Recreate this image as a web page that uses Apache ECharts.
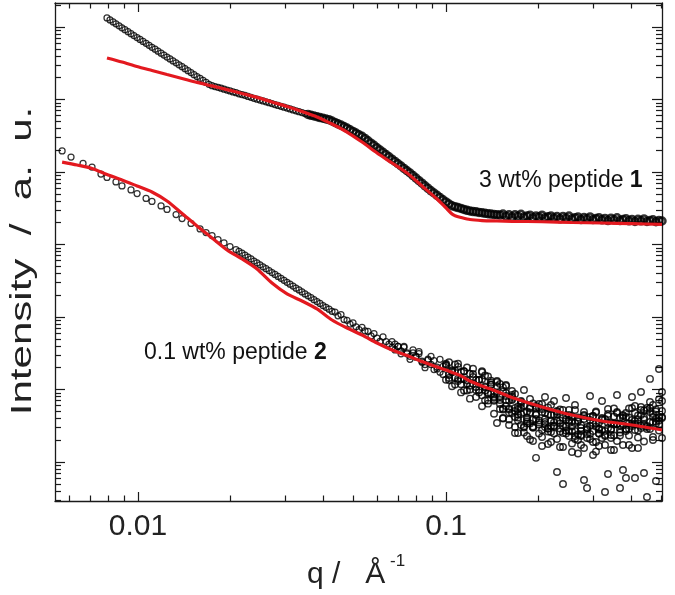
<!DOCTYPE html>
<html>
<head>
<meta charset="utf-8">
<script src="https://cdn.jsdelivr.net/npm/echarts@6/dist/echarts.min.js"></script>
<style>
html, body { margin: 0; padding: 0; background: #ffffff; }
#chart { width: 675px; height: 595px; }
</style>
</head>
<body>
<div id="chart"></div>
<script>
// ---------------- data (q in 1/Å, intensity in arbitrary units) ----------------
const qGrid = [
  0.00567, 0.00579, 0.00593, 0.00606, 0.00620, 0.00634, 0.00648, 0.00663, 0.00678, 0.00693,
  0.00709, 0.00725, 0.00742, 0.00758, 0.00776, 0.00793, 0.00811, 0.00830, 0.00848, 0.00868,
  0.00887, 0.00907, 0.00928, 0.00949, 0.00970, 0.00993, 0.01015, 0.01038, 0.01062, 0.01086,
  0.01110, 0.01136, 0.01161, 0.01188, 0.01214, 0.01242, 0.01270, 0.01299, 0.01329, 0.01359,
  0.01390, 0.01421, 0.01453, 0.01486, 0.01520, 0.01554, 0.01590, 0.01626, 0.01663, 0.01700,
  0.01739, 0.01778, 0.01819, 0.01860, 0.01902, 0.01945, 0.01989, 0.02034, 0.02080, 0.02127,
  0.02176, 0.02225, 0.02276, 0.02327, 0.02380, 0.02434, 0.02489, 0.02546, 0.02604, 0.02663,
  0.02723, 0.02785, 0.02848, 0.02913, 0.02979, 0.03047, 0.03115, 0.03186, 0.03258, 0.03332,
  0.03408, 0.03485, 0.03564, 0.03645, 0.03727, 0.03812, 0.03898, 0.03986, 0.04077, 0.04170,
  0.04264, 0.04361, 0.04460, 0.04561, 0.04665, 0.04771, 0.04879, 0.04990, 0.05103, 0.05218,
  0.05337, 0.05458, 0.05582, 0.05708, 0.05837, 0.05970, 0.06105, 0.06244, 0.06386, 0.06530,
  0.06679, 0.06830, 0.06985, 0.07144, 0.07305, 0.07471, 0.07640, 0.07814, 0.07991, 0.08171,
  0.08358, 0.08547, 0.08741, 0.08939, 0.09141, 0.09350, 0.09561, 0.09779, 0.1000, 0.1023,
  0.1046, 0.1070, 0.1094, 0.1119, 0.1144, 0.1170, 0.1196, 0.1224, 0.1252, 0.1280,
  0.1309, 0.1339, 0.1369, 0.1400, 0.1432, 0.1464, 0.1497, 0.1531, 0.1566, 0.1602,
  0.1638, 0.1675, 0.1713, 0.1752, 0.1791, 0.1832, 0.1874, 0.1916, 0.1960, 0.2004,
  0.2050, 0.2096, 0.2144, 0.2192, 0.2242, 0.2293, 0.2345, 0.2398, 0.2453, 0.2508,
  0.2565, 0.2623, 0.2683, 0.2744, 0.2806, 0.2870, 0.2935, 0.3001, 0.3069, 0.3139,
  0.3210, 0.3283, 0.3357, 0.3433, 0.3511, 0.3591, 0.3672, 0.3755, 0.3840, 0.3928,
  0.4017, 0.4108, 0.4201, 0.4296, 0.4394, 0.4493, 0.4595, 0.4699, 0.4806, 0.4915,
  0.5027
];

// 3 wt% peptide 1, measured (aligned with qGrid)
const pep1Data = [
  null, null, null, null, null, null, null, null, null, null,
  null, null, null, null, null, 1.331e6, 1.251e6, 1.176e6, 1.105e6, 1.039e6,
  9.76e5, 9.18e5, 8.63e5, 8.10e5, 7.62e5, 7.16e5, 6.73e5, 6.33e5, 5.95e5, 5.59e5,
  5.25e5, 4.94e5, 4.64e5, 4.36e5, 4.10e5, 3.85e5, 3.62e5, 3.40e5, 3.20e5, 3.01e5,
  2.83e5, 2.66e5, 2.50e5, 2.35e5, 2.20e5, 2.07e5, 1.95e5, 1.83e5, 1.72e5, 1.62e5,
  1.55e5, 1.51e5, 1.47e5, 1.43e5, 1.39e5, 1.35e5, 1.31e5, 1.27e5, 1.24e5, 1.20e5,
  1.17e5, 1.14e5, 1.10e5, 1.07e5, 1.04e5, 1.01e5, 9.84e4, 9.56e4, 9.30e4, 9.04e4,
  8.78e4, 8.53e4, 8.29e4, 8.06e4, 7.83e4, 7.61e4, 7.40e4, 7.19e4, 6.99e4, 6.79e4,
  6.60e4, 6.41e4, 6.23e4, 6.06e4, 5.92e4, 5.78e4, 5.64e4, 5.51e4, 5.38e4, 5.26e4,
  5.05e4, 4.83e4, 4.62e4, 4.44e4, 4.24e4, 4.03e4, 3.82e4, 3.63e4, 3.44e4, 3.26e4,
  3.10e4, 2.90e4, 2.69e4, 2.50e4, 2.33e4, 2.16e4, 2.01e4, 1.87e4, 1.74e4, 1.62e4,
  1.50e4, 1.40e4, 1.30e4, 1.21e4, 1.12e4, 1.04e4, 9.69e3, 8.92e3, 8.24e3, 7.59e3,
  7.01e3, 6.45e3, 5.96e3, 5.50e3, 5.13e3, 4.77e3, 4.45e3, 4.14e3, 3.86e3, 3.62e3,
  3.42e3, 3.32e3, 3.23e3, 3.14e3, 3.05e3, 2.96e3, 2.90e3, 2.85e3, 2.82e3, 2.77e3,
  2.74e3, 2.69e3, 2.66e3, 2.63e3, 2.60e3, 2.58e3, 2.55e3, 2.63e3, 2.46e3, 2.57e3,
  2.39e3, 2.58e3, 2.46e3, 2.61e3, 2.40e3, 2.47e3, 2.54e3, 2.34e3, 2.48e3, 2.39e3,
  2.54e3, 2.34e3, 2.41e3, 2.48e3, 2.32e3, 2.43e3, 2.26e3, 2.44e3, 2.32e3, 2.47e3,
  2.27e3, 2.34e3, 2.40e3, 2.21e3, 2.35e3, 2.26e3, 2.40e3, 2.21e3, 2.28e3, 2.34e3,
  2.19e3, 2.29e3, 2.14e3, 2.31e3, 2.19e3, 2.33e3, 2.14e3, 2.21e3, 2.27e3, 2.12e3,
  2.22e3, 2.08e3, 2.23e3, 2.12e3, 2.25e3, 2.08e3, 2.14e3, 2.19e3, 2.06e3, 2.15e3,
  2.11e3
];

// 0.1 wt% peptide 2, measured (aligned with qGrid)
const pep2Data = [
  1.95e4, null, null, 1.61e4, null, null, null, 1.31e4, null, null,
  1.17e4, null, null, 9.38e3, null, 8.40e3, null, null, 7.28e3, null,
  6.41e3, null, null, 5.65e3, null, 5.05e3, null, null, 4.31e3, null,
  3.92e3, null, null, 3.40e3, null, 3.04e3, null, null, 2.59e3, null,
  2.28e3, null, null, 1.95e3, null, null, 1.64e3, null, 1.46e3, null,
  1.33e3, null, 1.17e3, null, 1.05e3, null, 938, null, 853, 806,
  759, 712, 670, 631, 592, 557, 525, 493, 464, 437,
  410, 386, 363, 341, 321, 301, 283, 267, 250, 236,
  222, 208, 196, 185, 173, 163, 154, 144, 136, 128,
  120, 117, 104, 108, 92.3, 90.1, 79.9, 82.9, 73.2, 67.0,
  71.9, 64.1, 63.1, 54.7, 59.2, 51.3, 46.0, 53.0, 45.9, 42.4,
  38.0, 42.4, 39.2, 34.1, 38.1, 32.0, 28.7, 32.1, 28.8, 31.2,
  24.6, 22.1, 26.3, 22.2, 25.0, 19.2, 17.3, 20.8, 22.0, 15.8,
  17.3, 18.2, 13.1, 17.4, 13.8, 12.1, 16.5, 12.0, 13.5, 9.81,
  13.8, 11.0, 9.06, 11.6, 7.93, 11.2, 7.88, 9.39, 5.92, 7.05,
  7.88, 5.56, 4.52, 5.56, 4.82, 3.62, 5.47, 3.86, 4.59, 3.50,
  5.38, 3.92, 4.52, 3.14, 3.50, 4.59, 3.74, 3.14, 3.86, 4.45,
  3.09, 2.68, 3.74, 3.24, 3.92, 2.76, 3.14, 4.31, 3.09, 3.50,
  2.76, 3.92, 2.94, 3.45, 4.24, 3.34, 2.80, 4.05, 4.74, 3.40,
  3.80, 4.74, 3.40, 4.45, 3.86, 5.56, 3.56, 4.59, 5.30, 4.11,
  5.05
];

// further peptide 2 readings in the noisy part, aligned with qGrid from the given index
const SCATTER_B_START = 110;
const pep2ScatterB = [
  45.9, 35.1, 39.2, 31.1, 39.4, 31.1, 26.1, 35.3, 27.9, 33.2,
  23.8, 20.0, 25.5, 28.6, 18.8, 20.4, 26.1, 16.1, 21.2, 13.5,
  17.8, 22.1, 14.0, 11.8, 17.8, 13.3, 10.0, 16.4, 10.8, 13.5,
  8.30, 15.6, 8.79, 12.4, 6.98, 8.95, 11.9, 5.47, 8.14, 5.30,
  9.54, 5.05, 3.74, 6.31, 3.09, 4.97, 3.40, 6.41, 3.92, 5.65,
  2.76, 4.74, 2.90, 6.11, 3.19, 3.68, 5.30, 2.51, 4.38, 2.68,
  3.62, 5.21, 2.40, 2.94, 4.31, 2.14, 3.80, 2.68, 4.97, 2.47,
  3.80, 2.28, 4.59, 2.85, 5.47, 3.34, 2.55, 4.45, 2.85, 5.47,
  3.34, 2.76, 4.38, 5.74, 3.29, 2.85, 5.56, 4.18, 3.40, 7.29,
  4.05
];
const SCATTER_C_START = 128;
const pep2ScatterC = [
  13.6, 23.8, 11.1, 14.6, 22.6, 9.12, 17.8, 9.70, 7.48, 19.3,
  9.84, 13.5, 5.86, 7.08, 15.1, 8.76, 4.62, 3.45, 6.31, 4.05,
  11.2, 3.24, 8.40, 3.04, 2.51, 6.72, 9.84, 2.28, 7.40, 1.95,
  1.14, 6.31, 2.21, 7.88, 1.77, 2.59, 6.94, 0.728, 1.61, 0.497,
  7.64, 2.28, 1.37, 6.11, 2.01, 1.72, 0.565, 0.438, 8.14, 1.25,
  1.89, 1.66, 6.94, 0.386, 0.683, 2.14, 1.46, 8.40, 0.438, 0.776,
  0.602, 1.72, 7.88, 0.602, 1.56, 9.24, 0.705, 0.329, 14.0, 2.01,
  0.547, 19.2, 9.24
];
const SCATTER_D_START = 128;
const pep2ScatterD = [
  22.7, 14.4, 18.4, 11.7, 20.5, 13.9, 9.70, 20.1, 11.3, 14.9,
  7.88, 9.12, 17.8, 10.7, 6.38, 13.2, 7.21, 13.1, 7.17, 10.7,
  7.17, 4.82, 7.17, 8.67, 4.11, 4.59, 6.01, 3.40, 4.82, 2.99,
  5.92, 3.74, 4.89, 3.04, 5.65, 3.68, 3.09, 4.89, 2.63, 4.05,
  3.09, 5.21, 2.63, 3.45, 4.11, 2.28, 4.45, 3.04, 2.43, 3.45,
  4.82, 2.80, 3.92, 2.68, 4.31, 2.36, 3.40, 4.89, 3.19, 4.31,
  2.68, 4.11, 3.14, 5.92, 3.86, 3.14, 5.13, 3.04, 4.89, 6.11,
  3.98, 3.74, 6.94
];
const SCATTER_E_START = 146;
const pep2ScatterE = [
  5.38, 3.98, 8.95, 3.86, 4.74, 2.51, 5.83, 3.24, 2.55, 3.86,
  2.04, 3.09, 5.56, 2.47, 1.66, 3.56, 2.63, 1.89, 4.52, 2.08,
  2.90, 1.61, 2.47, 3.80, 1.80, 2.08, 1.31, 2.68, 1.56, 2.43,
  4.18, 1.89, 1.39, 2.90, 2.14, 1.72, 3.45, 1.46, 2.32, 1.95,
  4.11, 1.72, 2.85, 2.32, 1.56, 3.68, 2.18, 2.94, 1.92, 5.21,
  2.85, 2.21, 3.62, 2.72, 2.14
];
const SCATTER_F_START = 140;
const pep2ScatterF = [
  17.3, 9.70, 7.03, 11.6, 7.69, 12.7, 8.14, 5.30, 11.5, 5.47,
  7.40, 4.18, 5.30, 6.94, 2.99, 4.11, 5.65, 2.99, 4.45, 3.29,
  6.31, 3.34, 2.90, 4.45, 2.47, 5.05, 3.40, 5.21, 2.72, 3.45,
  4.24, 2.28, 3.62, 2.36, 4.89, 2.85, 2.08, 4.31, 3.40, 2.47,
  4.05, 2.36, 5.38, 2.76, 3.29, 4.74, 2.32, 3.24, 4.18, 2.90,
  5.56, 3.34, 2.72, 5.21, 4.11, 3.14, 6.72, 3.56, 4.97, 3.29,
  4.18
];

// model fits
const qFit = [
  0.00567, 0.00634, 0.00709, 0.00793, 0.00887, 0.00993, 0.01110, 0.01242, 0.01390, 0.01554,
  0.01739, 0.01945, 0.02176, 0.02434, 0.02723, 0.03047, 0.03408, 0.03812, 0.04264, 0.04771,
  0.05337, 0.05970, 0.06679, 0.07471, 0.08358, 0.09350, 0.1000, 0.1046, 0.1070, 0.1119,
  0.1196, 0.1309, 0.1464, 0.1638, 0.2050, 0.2565, 0.3210, 0.4017, 0.5027
];
const pep1Fit = [
  null, null, null, 3.74e5, 3.29e5, 2.85e5, 2.51e5, 2.21e5, 1.95e5, 1.72e5,
  1.54e5, 1.37e5, 1.21e5, 1.07e5, 9.24e4, 8.01e4, 6.83e4, 5.74e4, 4.59e4, 3.56e4,
  2.59e4, 1.83e4, 1.33e4, 9.69e3, 6.41e3, 4.24e3, 3.19e3, 2.63e3, 2.49e3, 2.36e3,
  2.21e3, 2.14e3, 2.11e3, 2.09e3, 2.06e3, 2.01e3, 1.98e3, 1.94e3, 1.89e3
];
const pep2Fit = [
  1.37e4, 1.25e4, 1.12e4, 9.24e3, 7.76e3, 6.41e3, 5.30e3, 3.98e3, 2.68e3, 1.80e3,
  1.23e3, 840, 631, 459, 294, 208, 166, 129, 90.9, 70.5,
  56.5, 43.8, 35.1, 29.4, 24.3, 20.4, 18.6, 17.2, 16.6, 15.4,
  13.1, 11.2, 9.38, 7.76, 5.74, 4.45, 3.68, 3.24, 2.76
];

// axes
const xMajorTicks = [0.01, 0.1];
const xMinorTicks = [0.006, 0.007, 0.008, 0.009, 0.02, 0.03, 0.04, 0.05, 0.06, 0.07, 0.08, 0.09, 0.2, 0.3, 0.4, 0.5];
const yMajorTicks = [1, 10, 100, 1000, 10000, 100000, 1000000];
const yMinorTicks = [
  0.3, 0.4, 0.5, 0.6, 0.7, 0.8, 0.9,
  2, 3, 4, 5, 6, 7, 8, 9,
  20, 30, 40, 50, 60, 70, 80, 90,
  200, 300, 400, 500, 600, 700, 800, 900,
  2000, 3000, 4000, 5000, 6000, 7000, 8000, 9000,
  20000, 30000, 40000, 50000, 60000, 70000, 80000, 90000,
  200000, 300000, 400000, 500000, 600000, 700000, 800000, 900000,
  2000000
];
const labels = {
  yTitle: 'Intensity  /  a.  u.',
  xTitle: 'q /   Å',
  xTitleSup: '-1',
  pep1: '3 wt% peptide {b|1}',
  pep2: '0.1 wt% peptide {b|2}'
};

// ---------------- chart ----------------
const FONT = '"Liberation Sans", Arial, Helvetica, sans-serif';
const INK = '#1a1a1a';
const RED = '#e3191f';
const X_MIN = 0.005376, X_MAX = 0.5027;
const Y_MIN = 0.2897, Y_MAX = 2.143e6;
const DENSE_FROM_Q = 0.035;   // peptide 1 points merge into a solid band from here on
const NOISY_FROM_Q = 0.1;     // peptide 2 points form a dense cloud from here on

function pairs(qs, vals, start) {
  const out = [];
  vals.forEach(function (v, i) { if (v != null) out.push([qs[start + i], v]); });
  return out;
}

function axisDef(kind, position, ticks, len, withLine, withLabels) {
  const isX = kind === 'x';
  return {
    type: 'log', logBase: 10, position: position,
    min: isX ? X_MIN : Y_MIN, max: isX ? X_MAX : Y_MAX,
    axisLine: { show: withLine, onZero: false, lineStyle: { color: INK, width: 1.3 } },
    axisTick: { show: true, inside: true, length: len, customValues: ticks,
      lineStyle: { color: INK, width: 1.2 } },
    axisLabel: withLabels ? {
      show: true, customValues: ticks, margin: 11, fontSize: 30, fontFamily: FONT, color: '#222',
      formatter: function (v) { return String(v); }
    } : { show: false },
    splitLine: { show: false },
    minorTick: { show: false },
    minorSplitLine: { show: false }
  };
}

const circleStyle = { color: 'rgba(0,0,0,0)', borderColor: '#000', borderWidth: 1.25 };

const pep1Points = pairs(qGrid, pep1Data, 0).map(function (p) {
  return p[0] >= DENSE_FROM_Q
    ? { value: p, symbolSize: 7, itemStyle: { borderWidth: 2.5 } }
    : { value: p };
});
const pep2Points = pairs(qGrid, pep2Data, 0)
  .concat(pairs(qGrid, pep2ScatterB, SCATTER_B_START))
  .concat(pairs(qGrid, pep2ScatterC, SCATTER_C_START))
  .concat(pairs(qGrid, pep2ScatterD, SCATTER_D_START))
  .concat(pairs(qGrid, pep2ScatterE, SCATTER_E_START))
  .concat(pairs(qGrid, pep2ScatterF, SCATTER_F_START))
  .map(function (p) {
    return p[0] >= NOISY_FROM_Q
      ? { value: p, symbolSize: 6.5, itemStyle: { borderWidth: 1.45 } }
      : { value: p };
  });

const chart = echarts.init(document.getElementById('chart'), null, { renderer: 'canvas' });
chart.setOption({
  animation: false,
  backgroundColor: '#ffffff',
  grid: { left: 55, right: 13, top: 3, bottom: 94, containLabel: false },
  xAxis: [
    axisDef('x', 'bottom', xMajorTicks, 9, true, true),
    axisDef('x', 'bottom', xMinorTicks, 5.5, false, false),
    axisDef('x', 'top', xMajorTicks, 9, true, false),
    axisDef('x', 'top', xMinorTicks, 5.5, false, false)
  ],
  yAxis: [
    axisDef('y', 'left', yMajorTicks, 10, true, false),
    axisDef('y', 'left', yMinorTicks, 6, false, false),
    axisDef('y', 'right', yMajorTicks, 10, true, false),
    axisDef('y', 'right', yMinorTicks, 6, false, false)
  ],
  series: [
    {
      name: '3 wt% peptide 1', type: 'scatter', xAxisIndex: 0, yAxisIndex: 0,
      symbol: 'circle', symbolSize: 6, itemStyle: circleStyle, silent: true,
      data: pep1Points
    },
    {
      name: '0.1 wt% peptide 2', type: 'scatter', xAxisIndex: 0, yAxisIndex: 0,
      symbol: 'circle', symbolSize: 6, itemStyle: circleStyle, silent: true,
      data: pep2Points
    },
    {
      name: 'fit peptide 1', type: 'line', xAxisIndex: 0, yAxisIndex: 0,
      showSymbol: false, symbol: 'none', smooth: 0.25, silent: true, z: 5,
      lineStyle: { color: RED, width: 3.2 },
      data: pairs(qFit, pep1Fit, 0)
    },
    {
      name: 'fit peptide 2', type: 'line', xAxisIndex: 0, yAxisIndex: 0,
      showSymbol: false, symbol: 'none', smooth: 0.25, silent: true, z: 5,
      lineStyle: { color: RED, width: 3.2 },
      data: pairs(qFit, pep2Fit, 0)
    }
  ],
  graphic: [
    {
      type: 'text', x: 23, y: 261, rotation: Math.PI / 2, scaleX: 1.45, silent: true,
      style: { text: labels.yTitle, fontFamily: FONT, fontSize: 29, fill: '#222',
        align: 'center', verticalAlign: 'middle', textAlign: 'center', textVerticalAlign: 'middle' }
    },
    {
      type: 'text', x: 307, y: 575, silent: true,
      style: { text: labels.xTitle, fontFamily: FONT, fontSize: 30, fill: '#222',
        align: 'left', verticalAlign: 'middle', textAlign: 'left', textVerticalAlign: 'middle' }
    },
    {
      type: 'text', x: 390, y: 561, silent: true,
      style: { text: labels.xTitleSup, fontFamily: FONT, fontSize: 17, fill: '#222',
        align: 'left', verticalAlign: 'middle', textAlign: 'left', textVerticalAlign: 'middle' }
    },
    {
      type: 'text', x: 479, y: 181, silent: true,
      style: { text: labels.pep1, fontFamily: FONT, fontSize: 23, fill: '#111',
        rich: { b: { fontFamily: FONT, fontSize: 23, fontWeight: 'bold', fill: '#111' } },
        align: 'left', verticalAlign: 'middle', textAlign: 'left', textVerticalAlign: 'middle' }
    },
    {
      type: 'text', x: 144, y: 353, silent: true,
      style: { text: labels.pep2, fontFamily: FONT, fontSize: 23, fill: '#111',
        rich: { b: { fontFamily: FONT, fontSize: 23, fontWeight: 'bold', fill: '#111' } },
        align: 'left', verticalAlign: 'middle', textAlign: 'left', textVerticalAlign: 'middle' }
    }
  ]
});
</script>
</body>
</html>
